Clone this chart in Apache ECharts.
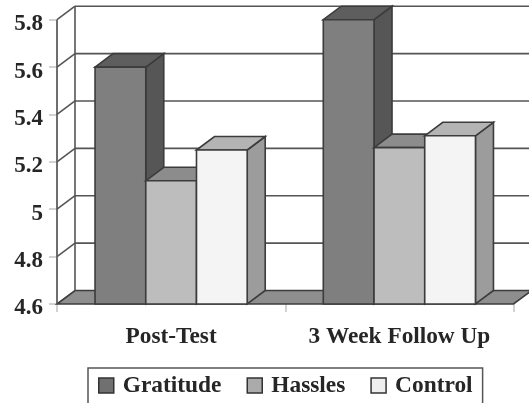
<!DOCTYPE html>
<html>
<head>
<meta charset="utf-8">
<style>
  html, body { margin: 0; padding: 0; background: #fff; overflow: hidden; }
  #chart { width: 529px; height: 403px; }
</style>
<script src="https://cdn.jsdelivr.net/npm/echarts@6/dist/echarts.min.js"></script>
</head>
<body>
<div id="chart"></div>
<script>
const categories = ['Post-Test', '3 Week Follow Up'];
const gratitude = [5.6, 5.8];
const hassles = [5.12, 5.26];
const control = [5.25, 5.31];
const yMin = 4.6;
const yMax = 5.8;
const yStep = 0.2;
const yTicks = [4.6, 4.8, 5, 5.2, 5.4, 5.6, 5.8];

// fake 3d depth, in pixels
const DX = 18;
const DY = -13.5;
const EDGE = '#3c3c3c';
const FONT = '"Liberation Serif", serif';
const TEXT = '#262626';

function poly(points, fill) {
  return {
    type: 'polygon',
    shape: { points: points },
    style: { fill: fill, stroke: EDGE, lineWidth: 1.6, lineJoin: 'miter' }
  };
}

// a bar with front, top and side faces, slot = 0,1,2 inside the category
function bar3d(name, values, slot, colors) {
  return {
    name: name,
    type: 'custom',
    coordinateSystem: 'cartesian2d',
    itemStyle: { color: colors[0] },
    clip: false,
    z: 3 + slot,
    data: values.map((v, i) => [i, v]),
    renderItem(params, api) {
      const band = api.size([1, 0])[0];
      const w = band / 4.5;
      const c = api.coord([api.value(0), api.value(1)]);
      const base = api.coord([api.value(0), yMin])[1];
      const x0 = c[0] - 1.5 * w + slot * w;
      const x1 = x0 + w;
      const top = c[1];
      return {
        type: 'group',
        children: [
          poly([[x1, top], [x1 + DX, top + DY], [x1 + DX, base + DY], [x1, base]], colors[2]),
          poly([[x0, top], [x0 + DX, top + DY], [x1 + DX, top + DY], [x1, top]], colors[1]),
          poly([[x0, top], [x1, top], [x1, base], [x0, base]], colors[0])
        ]
      };
    }
  };
}

const chart = echarts.init(document.getElementById('chart'));
chart.setOption({
  animation: false,
  backgroundColor: '#fff',
  grid: { left: 57, right: 15.5, top: 19.7, bottom: 99 },
  legend: {
    data: [
      { name: 'Gratitude', itemStyle: { color: '#707070' } },
      { name: 'Hassles', itemStyle: { color: '#ababab' } },
      { name: 'Control', itemStyle: { color: '#eeeeee' } }
    ],
    left: 88,
    top: 368,
    padding: [6, 10, 34, 10],
    borderColor: '#555',
    borderWidth: 1.5,
    itemWidth: 15,
    itemHeight: 15,
    itemGap: 25,
    icon: 'rect',
    itemStyle: { borderColor: '#333', borderWidth: 1.5 },
    textStyle: { fontFamily: FONT, fontWeight: 'bold', fontSize: 23.4, color: TEXT, padding: [2, 0, 0, 4] }
  },
  xAxis: {
    type: 'category',
    data: categories,
    axisLine: { show: false },
    axisTick: { show: true, length: 8, alignWithLabel: false, lineStyle: { color: '#c4c4c4', width: 1.5 } },
    axisLabel: { fontFamily: FONT, fontWeight: 'bold', fontSize: 23.3, color: TEXT, margin: 21, interval: 0 },
    splitLine: { show: false }
  },
  yAxis: {
    type: 'value',
    min: yMin,
    max: yMax,
    interval: yStep,
    axisLine: { show: true, lineStyle: { color: '#c4c4c4', width: 1.5 } },
    axisTick: { show: true, length: 8, lineStyle: { color: '#c4c4c4', width: 1.5 } },
    axisLabel: {
      margin: 14,
      formatter: '{a|{value}}',
      rich: {
        a: { fontFamily: FONT, fontWeight: 'bold', fontSize: 23, color: TEXT, padding: [9, 0, 0, 0] }
      }
    },
    splitLine: { show: false }
  },
  series: [
    {
      // floor
      type: 'custom',
      silent: true,
      clip: false,
      z: 1,
      data: [[yMin]],
      renderItem(params, api) {
        const r = params.coordSys;
        const y = api.coord([0, yMin])[1];
        return poly([[r.x, y], [r.x + DX, y + DY], [r.x + r.width + DX, y + DY], [r.x + r.width, y]], '#8e8e8e');
      }
    },
    {
      // side wall + back wall grid lines
      type: 'custom',
      silent: true,
      clip: false,
      z: 2,
      data: yTicks.map((t) => [t]),
      renderItem(params, api) {
        const r = params.coordSys;
        const y = api.coord([0, api.value(0)])[1];
        const st = { stroke: '#555', lineWidth: 1.6, fill: null };
        const children = [];
        if (api.value(0) > yMin) {
          children.push({ type: 'line', shape: { x1: r.x, y1: y, x2: r.x + DX, y2: y + DY }, style: st });
          children.push({ type: 'line', shape: { x1: r.x + DX, y1: y + DY, x2: r.x + r.width + DX, y2: y + DY }, style: st });
        }
        if (api.value(0) === yMax) {
          children.push({ type: 'line', shape: { x1: r.x, y1: y, x2: r.x, y2: r.y + r.height }, style: st });
          children.push({ type: 'line', shape: { x1: r.x + DX, y1: y + DY, x2: r.x + DX, y2: r.y + r.height + DY }, style: st });
        }
        return { type: 'group', children: children };
      }
    },
    bar3d('Gratitude', gratitude, 0, ['#7f7f7f', '#5e5e5e', '#565656']),
    bar3d('Hassles', hassles, 1, ['#bdbdbd', '#8c8c8c', '#7c7c7c']),
    bar3d('Control', control, 2, ['#f4f4f4', '#b4b4b4', '#9c9c9c'])
  ]
});
</script>
</body>
</html>
